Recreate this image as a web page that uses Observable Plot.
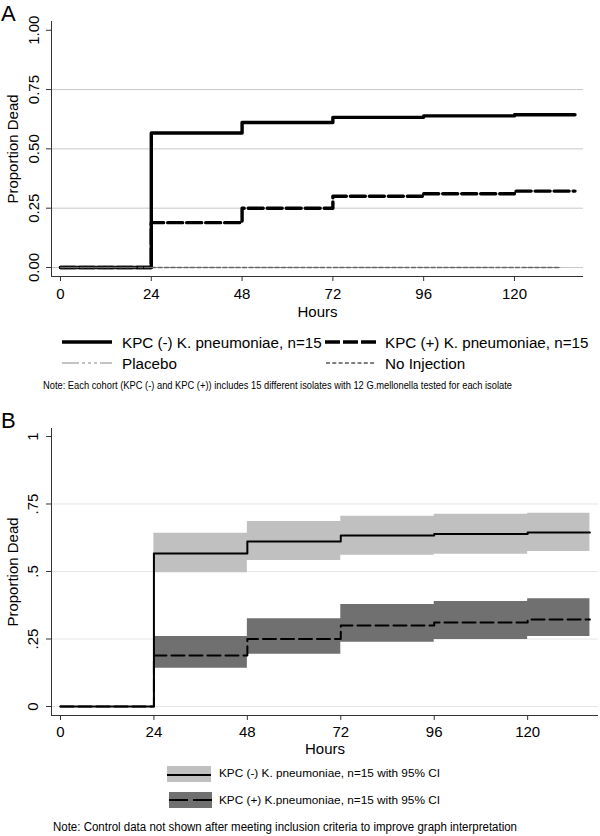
<!DOCTYPE html>
<html><head><meta charset="utf-8">
<script src="https://cdn.jsdelivr.net/npm/d3@7"></script>
<script src="https://cdn.jsdelivr.net/npm/@observablehq/plot@0.6"></script>
<style>
body{margin:0;background:#fff;}
#wrap{position:relative;width:600px;height:836px;overflow:hidden;font-family:"Liberation Sans",Arial,sans-serif;background:#fff;}
#wrap > svg{position:absolute;left:0;}
</style></head><body><div id="wrap"></div>
<script>
// ---- data ----
const hours = [0, 24, 48, 72, 96, 120];
const seriesEnd = 136;      // last observation time of KPC cohorts
const controlEnd = 132;     // last observation time of controls
const kpcNeg = [0, 0.567, 0.611, 0.633, 0.639, 0.644];
const kpcPos = [0, 0.189, 0.250, 0.300, 0.311, 0.322];
const placebo = [0, 0, 0, 0, 0, 0];
const noInjection = [0, 0, 0, 0, 0, 0];
const ciHours = [24, 48, 72, 96, 120];
const kpcNegLo = [0.495, 0.541, 0.560, 0.564, 0.574];
const kpcNegHi = [0.642, 0.685, 0.705, 0.712, 0.716];
const kpcPosLo = [0.142, 0.194, 0.238, 0.248, 0.259];
const kpcPosHi = [0.259, 0.325, 0.378, 0.389, 0.399];
const xTicks = [0, 24, 48, 72, 96, 120];
const yTicks = [0, 0.25, 0.5, 0.75, 1];
const gridTicks = [0, 0.25, 0.5, 0.75];
const yLabelsA = ["0.00", "0.25", "0.50", "0.75", "1.00"];
const yLabelsB = ["0", ".25", ".5", ".75", "1"];
const legendA = ["KPC (-) K. pneumoniae, n=15", "KPC (+) K. pneumoniae, n=15", "Placebo", "No Injection"];
const legendB = ["KPC (-) K. pneumoniae, n=15 with 95% CI", "KPC (+) K.pneumoniae, n=15 with 95% CI"];
const noteA = "Note:  Each cohort (KPC (-) and KPC (+)) includes 15 different isolates with 12 G.mellonella tested for each isolate";
const noteB = "Note:  Control data not shown after meeting inclusion criteria to improve graph interpretation";

function steps(xs, vs, end) {
  const pts = xs.map((h, i) => ({h, v: vs[i]}));
  pts.push({h: end, v: vs[vs.length - 1]});
  return pts;
}
function bands(xs, lo, hi, end) {
  const pts = xs.map((h, i) => ({h, lo: lo[i], hi: hi[i]}));
  pts.push({h: end, lo: lo[lo.length - 1], hi: hi[hi.length - 1]});
  return pts;
}
const FONT = "Liberation Sans, Arial, sans-serif";
const wrap = document.getElementById("wrap");
const T = {textAnchor: "middle", lineAnchor: "middle", fontSize: 15, fill: "#000"};

// ---- Panel A ----
const xDomA = [-2.38, 138.25], yDomA = [-0.038, 1.037];
const plotA = Plot.plot({
  width: 600, height: 320,
  marginLeft: 51, marginRight: 17, marginTop: 21, marginBottom: 44,
  x: {domain: xDomA}, y: {domain: yDomA},
  style: {fontFamily: FONT, fontSize: "15px", color: "#000", background: "transparent", overflow: "visible"},
  marks: [
    Plot.gridY(gridTicks, {stroke: "#c8c8c8", strokeOpacity: 1}),
    Plot.line(steps(hours, kpcNeg, seriesEnd), {x: "h", y: "v", curve: "step-after", stroke: "#000", strokeWidth: 3.4}),
    Plot.line(steps(hours, kpcPos, seriesEnd), {x: "h", y: "v", curve: "step-after", stroke: "#000", strokeWidth: 3.4, strokeDasharray: "15,4"}),
    Plot.line(steps(hours, placebo, controlEnd), {x: "h", y: "v", curve: "step-after", stroke: "#888", strokeWidth: 1.2, strokeDasharray: "12,3,3,3"}),
    Plot.line(steps(hours, noInjection, controlEnd), {x: "h", y: "v", curve: "step-after", stroke: "#666", strokeWidth: 1.4, strokeDasharray: "4,2.5"}),
    Plot.ruleX([xDomA[0]], {stroke: "#333"}),
    Plot.ruleY([yDomA[0]], {stroke: "#333"}),
    Plot.axisY(yTicks, {tickSize: 5, tickFormat: () => "", label: null, stroke: "#333"}),
    Plot.axisX(xTicks, {tickSize: 5, tickPadding: 7, label: null, fontSize: 15, stroke: "#333", fill: "#000"}),
    Plot.text(yTicks, {...T, y: d => d, text: (d, i) => yLabelsA[i], frameAnchor: "left", dx: -17, rotate: -90}),
    Plot.text(["Hours"], {...T, text: d => d, frameAnchor: "bottom", dy: 36}),
    Plot.text(["Proportion Dead"], {...T, text: d => d, frameAnchor: "left", dx: -38, rotate: -90})
  ]
});
plotA.style.top = "0px";
wrap.appendChild(plotA);

// ---- Panel B ----
const xDomB = [-2.31, 138.2], yDomB = [-0.0333, 1.0296];
const plotB = Plot.plot({
  width: 600, height: 355,
  marginLeft: 51, marginRight: 2, marginTop: 28, marginBottom: 40,
  x: {domain: xDomB}, y: {domain: yDomB},
  style: {fontFamily: FONT, fontSize: "15px", color: "#000", background: "transparent", overflow: "visible"},
  marks: [
    Plot.gridY(gridTicks, {stroke: "#e6e6e6", strokeOpacity: 1}),
    Plot.areaY(bands(ciHours, kpcNegLo, kpcNegHi, seriesEnd), {x: "h", y1: "lo", y2: "hi", curve: "step-after", fill: "#c0c0c0"}),
    Plot.areaY(bands(ciHours, kpcPosLo, kpcPosHi, seriesEnd), {x: "h", y1: "lo", y2: "hi", curve: "step-after", fill: "#707070"}),
    Plot.line(steps(hours, kpcPos, seriesEnd), {x: "h", y: "v", curve: "step-after", stroke: "#000", strokeWidth: 2, strokeDasharray: "13,5"}),
    Plot.line(steps(hours, kpcNeg, seriesEnd), {x: "h", y: "v", curve: "step-after", stroke: "#000", strokeWidth: 2}),
    Plot.ruleX([xDomB[0]], {stroke: "#333"}),
    Plot.ruleY([yDomB[0]], {stroke: "#333"}),
    Plot.axisY(yTicks, {tickSize: 5, tickFormat: () => "", label: null, stroke: "#333"}),
    Plot.axisX(xTicks, {tickSize: 5, tickPadding: 6, label: null, fontSize: 15, stroke: "#333", fill: "#000"}),
    Plot.text(yTicks, {...T, y: d => d, text: (d, i) => yLabelsB[i], frameAnchor: "left", dx: -18, rotate: -90}),
    Plot.text(["Hours"], {...T, text: d => d, frameAnchor: "bottom", dy: 34}),
    Plot.text(["Proportion Dead"], {...T, text: d => d, frameAnchor: "left", dx: -38, rotate: -90})
  ]
});
plotB.style.top = "400px";
wrap.appendChild(plotB);

// ---- overlay: panel letters, legends, notes ----
const ov = d3.select(wrap).append("svg").attr("width", 600).attr("height", 836).style("top", "0px")
  .style("font-family", FONT);
ov.append("text").attr("x", 1).attr("y", 21).attr("font-size", 22).text("A");
ov.append("text").attr("x", 1).attr("y", 428).attr("font-size", 22).text("B");

function ltext(x, y, s, size, len) {
  const t = ov.append("text").attr("x", x).attr("y", y).attr("dominant-baseline", "central")
    .attr("font-size", size).attr("fill", "#000").text(s);
  if (len) t.attr("textLength", len).attr("lengthAdjust", "spacingAndGlyphs");
  return t;
}
function lline(x1, x2, y, stroke, w, dash) {
  const l = ov.append("line").attr("x1", x1).attr("x2", x2).attr("y1", y).attr("y2", y)
    .attr("stroke", stroke).attr("stroke-width", w);
  if (dash) l.attr("stroke-dasharray", dash);
}
// legend A
lline(62, 112, 342, "#000", 3.4);
ltext(122, 342, legendA[0], 15.2);
lline(325, 377, 342, "#000", 3.4, "15,3");
ltext(385, 342, legendA[1], 15.2);
lline(62, 112, 363, "#888", 1.2, "17,3,3,3,3,3,3,3");
ltext(122, 363, legendA[2], 15.2);
lline(326, 376, 363, "#555", 1.4, "4,2.3");
ltext(385, 363, legendA[3], 15.2);
ltext(43, 385, noteA, 10, 469);
// legend B
ov.append("rect").attr("x", 167).attr("y", 766).attr("width", 44).attr("height", 16).attr("fill", "#c0c0c0");
lline(167, 211, 775, "#000", 2);
ltext(219, 773, legendB[0], 11.8, 221);
ov.append("rect").attr("x", 169).attr("y", 792).attr("width", 43).attr("height", 16).attr("fill", "#707070");
lline(169, 212, 800, "#000", 2, "19,5");
ltext(219, 800, legendB[1], 11.8, 221);
ltext(53, 827, noteB, 12, 464);
</script></body></html>
